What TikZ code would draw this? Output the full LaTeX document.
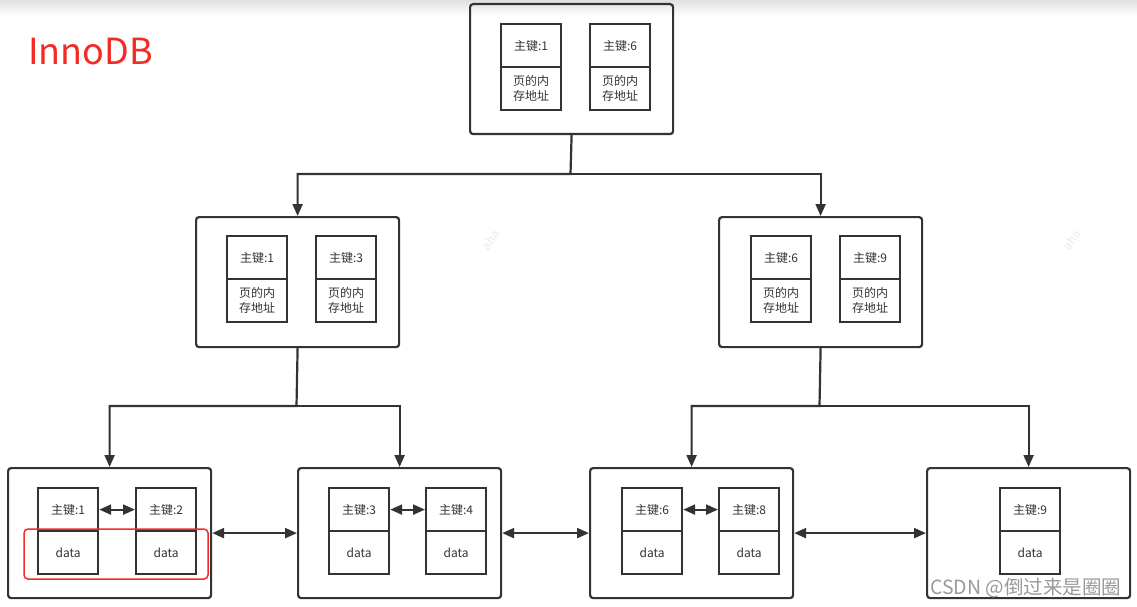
\documentclass[tikz,border=0pt]{standalone}
\usepackage{fontspec}
\newfontfamily\cjk{Noto Sans CJK SC}
\usetikzlibrary{arrows.meta}
\definecolor{ln}{HTML}{333333}
\definecolor{tx}{HTML}{333333}
\definecolor{redc}{HTML}{F42A24}
\tikzset{
  outerbox/.style={draw=ln, line width=2.2pt, rounded corners=3pt, minimum width=203pt, minimum height=130pt, inner sep=0pt, anchor=north west},
  cell/.style={draw=ln, line width=2.2pt, minimum width=60pt, minimum height=43pt, inner sep=0pt, anchor=north west, align=center, text=tx, font=\cjk\fontsize{12}{15}\selectfont},
  arr/.style={draw=ln, line width=2.2pt, -{Triangle[length=12pt,width=10pt]}},
  darr/.style={draw=ln, line width=2.2pt, {Triangle[length=12pt,width=10pt]}-{Triangle[length=12pt,width=10pt]}},
  wm/.style={text=black!8, font=\cjk\fontsize{12}{12}\selectfont, rotate=55}
}
\begin{document}
\begin{tikzpicture}[x=1pt,y=-1pt]
\useasboundingbox (0,0) rectangle (1137,607);
\fill[white] (0,0) rectangle (1137,607);
\shade[top color=black!12, bottom color=white] (0,0) rectangle (1137,16);

\node[text=redc, font=\cjk\fontsize{36}{36}\selectfont, anchor=base west, inner sep=0pt] (title) at (28,65) {InnoDB};

% top level
\node[outerbox] (top) at (469,3) {};
\node[cell] (tk1) at (500,23) {主键:1};
\node[cell] (ta1) at (500,66) {页的内\\存地址};
\node[cell] (tk2) at (589,23) {主键:6};
\node[cell] (ta2) at (589,66) {页的内\\存地址};

% middle level
\node[outerbox] (ml) at (195,216) {};
\node[cell] (mlk1) at (226,235) {主键:1};
\node[cell] (mla1) at (226,278) {页的内\\存地址};
\node[cell] (mlk2) at (315,235) {主键:3};
\node[cell] (mla2) at (315,278) {页的内\\存地址};

\node[outerbox] (mr) at (718,216) {};
\node[cell] (mrk1) at (750,235) {主键:6};
\node[cell] (mra1) at (750,278) {页的内\\存地址};
\node[cell] (mrk2) at (839,235) {主键:9};
\node[cell] (mra2) at (839,278) {页的内\\存地址};

% leaves
\node[outerbox] (b1) at (7,467) {};
\node[cell] (b1k1) at (37,487) {主键:1};
\node[cell] (b1d1) at (37,530) {data};
\node[cell] (b1k2) at (135,487) {主键:2};
\node[cell] (b1d2) at (135,530) {data};

\node[outerbox] (b2) at (297,467) {};
\node[cell] (b2k1) at (328,487) {主键:3};
\node[cell] (b2d1) at (328,530) {data};
\node[cell] (b2k2) at (425,487) {主键:4};
\node[cell] (b2d2) at (425,530) {data};

\node[outerbox] (b3) at (589,467) {};
\node[cell] (b3k1) at (621,487) {主键:6};
\node[cell] (b3d1) at (621,530) {data};
\node[cell] (b3k2) at (718,487) {主键:8};
\node[cell] (b3d2) at (718,530) {data};

\node[outerbox] (b4) at (926,467) {};
\node[cell] (b4k1) at (999,487) {主键:9};
\node[cell] (b4d1) at (999,530) {data};

% tree connectors
\coordinate (s0) at (570.5,174);
\coordinate (s1) at (296.5,406);
\coordinate (s2) at (819.5,406);
\draw[arr] (top.south) -- (s0) -| (ml.north);
\draw[arr] (s0) -| (mr.north);
\draw[arr] (ml.south) -- (s1) -| (b1.north);
\draw[arr] (s1) -| (b2.north);
\draw[arr] (mr.south) -- (s2) -| (b3.north);
\draw[arr] (s2) -| (b4.north);

% sibling links
\draw[darr] (b1.east) -- (b2.west);
\draw[darr] (b2.east) -- (b3.west);
\draw[darr] (b3.east) -- (b4.west);
\draw[darr] (b1k1.east) -- (b1k2.west);
\draw[darr] (b2k1.east) -- (b2k2.west);
\draw[darr] (b3k1.east) -- (b3k2.west);

% highlight
\draw[redc, line width=1.5pt, rounded corners=4pt] (24,529) rectangle (208,579);

% watermarks
\node[wm] (w1) at (491,240) {aha};
\node[wm] (w2) at (1072,240) {aha};
\node[text=black!40, font=\cjk\fontsize{19.5}{19.5}\selectfont, anchor=base west, inner sep=0pt] (csdn) at (930,594) {CSDN @倒过来是圈圈};
\end{tikzpicture}
\end{document}
